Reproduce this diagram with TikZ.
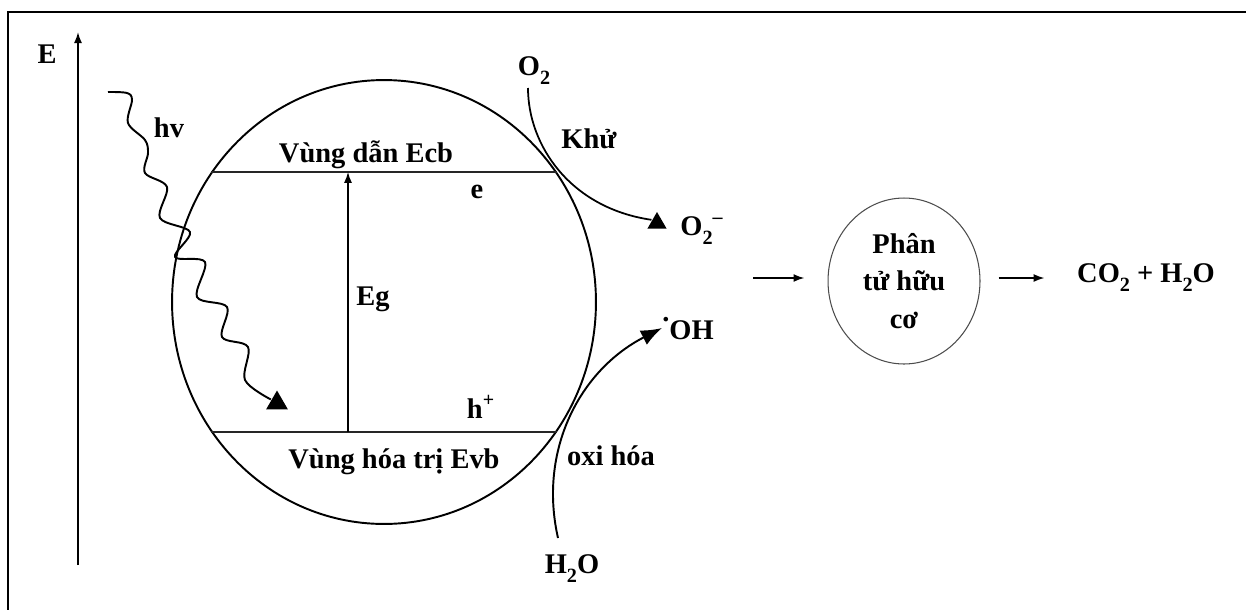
\documentclass[tikz,border=0pt]{standalone}
\usepackage{fontspec}
\setmainfont{Liberation Serif}
\usetikzlibrary{arrows.meta,calc,shapes.geometric}
\newcommand{\chemsub}[1]{\raisebox{-0.32em}{\fontsize{11.5}{12}\selectfont #1}}

\begin{document}
\begin{tikzpicture}[x=0.02cm,y=-0.02cm,line width=1pt,>=Stealth]
\tikzset{lbl/.style={font=\bfseries\fontsize{16.2}{21.5}\selectfont,anchor=base,inner sep=1pt},
  thinarrow/.style={line width=1pt,-{Latex[length=2.2mm,width=1.6mm]}},
  bigarrow/.style={line width=1.1pt,-{Latex[length=4.2mm,width=3.2mm]}},
  band/.style={line width=1pt,black!85},
  wave/.style={line width=1.1pt,line join=round},
  tri/.style={regular polygon,regular polygon sides=3,fill,draw=none,inner sep=0pt}}
% ---------- frame and energy axis ----------
\useasboundingbox (0,0) rectangle (1246,609);
\clip (0,0) rectangle (1246,609);
\draw[line width=1.3pt] (8,12) rectangle (1280,650);
\coordinate (ebot) at (78,565);
\coordinate (etop) at (78,32);
\draw[thinarrow] (ebot) -- (etop);
\node[lbl] (elbl) at (47,63) {E};
% ---------- photocatalyst particle: bands and gap ----------
\node[draw,ellipse,line width=1.1pt,minimum width=8.48cm,minimum height=8.88cm,inner sep=0pt] (cat) at (384,302) {};
\draw[band] (cat.143) -- (cat.37);    % conduction band edge
\draw[band] (cat.217) -- (cat.323);   % valence band edge
\coordinate (egx) at (348,0);
\draw[thinarrow] (egx |- cat.217) -- (egx |- cat.143);
\node[lbl] (cblbl) at (366,162) {Vùng dẫn Ecb};
\node[lbl] (vblbl) at (394,468) {Vùng hóa trị Evb};
\node[lbl] (elec) at (477,198) {e};
\node[lbl] (hole) at (481,418) {h\textsuperscript{+}};
\node[lbl] (eg) at (373,305) {Eg};
% ---------- incoming photon ----------
\node[lbl] (hv) at (169,137) {hv};
\node[tri,minimum size=0.5cm] (t1) at (277,403) {};
\draw[wave] plot[smooth,tension=0.55] coordinates {(108,92) (127,93) (132,100) (128,123) (145,140) (148,153) (145,173) (167,187) (160,218) (190,232) (175,257) (205,262) (197,297) (227,307) (222,337) (248,347) (245,380) (t1.side 1)};
% ---------- reduction: O2 -> O2- ----------
\node[lbl] (o2in) at (534,75) {O\chemsub{2}};
\node[lbl] (khu) at (589,148) {Khử};
\node[tri,minimum size=0.44cm] (t2) at (657,223) {};
\node[lbl] (o2out) at (702,235) {O\chemsub{2}\textsuperscript{–}};
\coordinate (o2start) at (528,88);
\draw (o2start) .. controls (528,145) and (570,208) .. (t2.side 1);
% ---------- oxidation: H2O -> OH ----------
\node[lbl] (h2o) at (572,573) {H\chemsub{2}O};
\node[lbl] (oxi) at (611,465) {oxi hóa};
\node[lbl] (oh) at (688,339) {\raisebox{0.6em}{.}OH};
\coordinate (h2ostart) at (558,538);
\coordinate (ohtip) at (662,328);
\draw[bigarrow] (h2ostart) .. controls (538,450) and (580,370) .. (ohtip);
% ---------- degradation of organic molecule ----------
\coordinate (feed) at (753,278);
\node[draw=gray!60!black,line width=0.6pt,ellipse,minimum width=3.04cm,minimum height=3.32cm,inner sep=0pt,align=center,
  font=\bfseries\fontsize{16.2}{21.5}\selectfont] (org) at (904,281) {Phân\\tử hữu\\cơ};
\node[lbl] (prod) at (1146,282) {CO\chemsub{2} + H\chemsub{2}O};
\draw[thinarrow,shorten >=0.46cm] (feed) -- (feed -| org.west);
\draw[thinarrow,shorten <=0.36cm,shorten >=0.6cm] (org.east |- feed) -- (feed -| prod.west);
\end{tikzpicture}
\end{document}
